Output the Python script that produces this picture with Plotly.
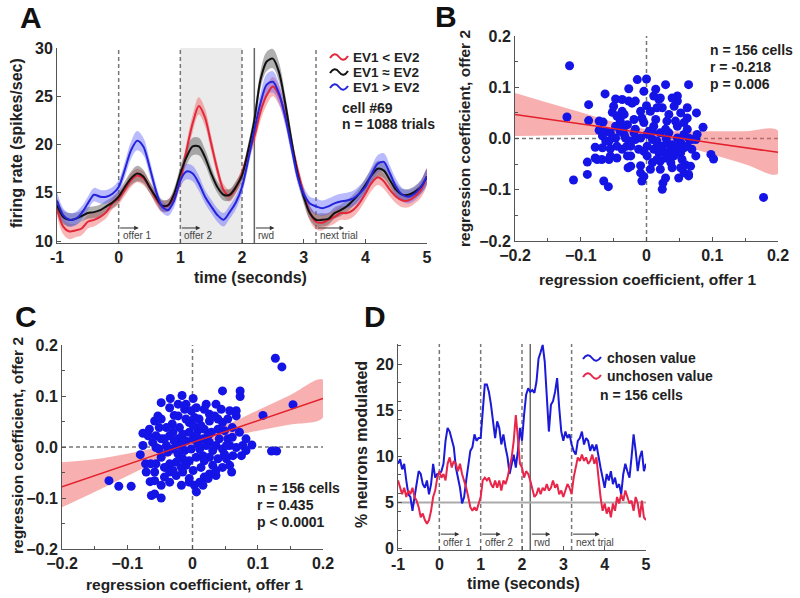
import plotly.graph_objects as go

# ---------------- Panel A data (firing rate, 0.1 s bins) ----------------
time_A = [round(-1 + 0.1 * i, 2) for i in range(61)]
rate_lt = [13.4, 11.5, 11.0, 11.1, 11.3, 12.0, 12.2, 12.5, 13.0, 13.9,
           14.4, 15.3, 16.3, 16.8, 16.5, 15.6, 14.4, 13.6, 13.7, 14.6,
           16.3, 19.4, 22.2, 24.0, 22.8, 20.1, 17.4, 15.3, 14.7, 15.5,
           17.0, 19.1, 20.8, 23.4, 25.1, 26.0, 25.1, 23.1, 20.1, 17.4,
           14.9, 12.9, 12.0, 11.9, 12.2, 12.5, 12.9, 12.9, 13.2, 13.9,
           14.9, 16.0, 16.6, 16.2, 15.3, 14.6, 14.2, 14.2, 14.6, 15.3,
           16.7]
rate_eq = [13.7, 12.5, 12.2, 12.3, 12.6, 12.9, 13.0, 13.2, 13.6, 14.0,
           14.6, 15.6, 16.5, 17.0, 16.7, 15.6, 14.6, 13.7, 13.7, 14.9,
           17.0, 18.7, 19.8, 19.8, 18.7, 17.0, 15.6, 14.8, 14.8, 15.6,
           16.8, 19.4, 22.5, 26.7, 28.6, 28.9, 27.5, 24.3, 20.5, 17.0,
           14.6, 12.9, 12.2, 12.2, 12.3, 12.9, 13.2, 13.6, 14.2, 14.9,
           15.8, 16.8, 17.5, 17.3, 16.3, 15.3, 14.8, 14.8, 15.1, 15.6,
           16.7]
rate_gt = [14.2, 12.7, 12.2, 12.3, 12.9, 13.9, 14.8, 14.6, 14.6, 14.9,
           15.6, 17.4, 19.4, 20.4, 19.8, 17.7, 15.3, 13.6, 13.2, 14.2,
           16.3, 17.2, 17.0, 16.0, 14.6, 13.6, 12.7, 12.2, 13.0, 14.0,
           15.6, 18.4, 21.5, 24.3, 26.2, 26.5, 25.3, 22.9, 19.8, 16.7,
           14.9, 13.9, 13.6, 13.4, 13.6, 13.9, 14.1, 14.2, 14.4, 14.9,
           15.6, 16.9, 18.0, 18.2, 17.0, 15.6, 14.8, 14.6, 14.9, 15.6,
           16.7]
sem_lt = [0.8, 0.8, 0.8, 0.7, 0.7, 0.7, 0.7, 0.6, 0.6, 0.6,
          0.6, 0.6, 0.7, 0.7, 0.7, 0.6, 0.6, 0.6, 0.6, 0.6,
          0.7, 0.8, 0.9, 0.9, 0.9, 0.8, 0.7, 0.6, 0.6, 0.6,
          0.6, 0.7, 0.8, 0.9, 1.0, 1.0, 1.0, 0.9, 0.8, 0.7,
          0.7, 0.8, 0.8, 0.8, 0.7, 0.7, 0.7, 0.7, 0.7, 0.7,
          0.7, 0.8, 0.8, 0.8, 0.7, 0.7, 0.7, 0.7, 0.7, 0.8,
          0.9]
sem_eq = [0.8, 0.7, 0.7, 0.6, 0.6, 0.6, 0.6, 0.6, 0.6, 0.6,
          0.6, 0.6, 0.7, 0.8, 0.7, 0.6, 0.6, 0.6, 0.6, 0.6,
          0.7, 0.8, 0.9, 0.9, 0.8, 0.7, 0.6, 0.6, 0.6, 0.6,
          0.6, 0.7, 0.8, 0.9, 1.0, 1.0, 1.0, 0.9, 0.8, 0.7,
          0.7, 0.7, 0.7, 0.7, 0.6, 0.6, 0.6, 0.6, 0.6, 0.6,
          0.7, 0.7, 0.8, 0.8, 0.7, 0.7, 0.6, 0.6, 0.6, 0.7,
          0.7]
sem_gt = [0.9, 0.7, 0.7, 0.7, 0.7, 0.7, 0.7, 0.7, 0.7, 0.7,
          0.7, 0.8, 0.9, 1.0, 0.9, 0.8, 0.7, 0.6, 0.6, 0.7,
          0.7, 0.8, 0.8, 0.8, 0.7, 0.7, 0.7, 0.7, 0.7, 0.7,
          0.7, 0.8, 0.9, 1.0, 1.1, 1.1, 1.0, 0.9, 0.8, 0.7,
          0.7, 0.7, 0.8, 0.8, 0.8, 0.8, 0.8, 0.8, 0.8, 0.8,
          0.8, 0.8, 0.9, 0.9, 0.8, 0.8, 0.7, 0.7, 0.7, 0.7,
          0.8]
legend_A = ["EV1 &lt; EV2", "EV1 ≈ EV2", "EV1 &gt; EV2"]

# ---------------- Events ----------------
event_times = [0, 1, 2, 3.2]
reward_time = 2.2
event_labels = ["offer 1", "offer 2", "rwd", "next trial"]
event_label_times = [0, 1, 2.2, 3.2]
offer2_window = [1, 2]

# ---------------- Panel B data ----------------
b_x = [-0.117, -0.121, -0.111, -0.088, -0.088, -0.090, -0.090, -0.078, -0.072, -0.066,
       -0.063, -0.078, -0.068, -0.065, -0.058, -0.057, -0.055, -0.052, -0.047, -0.047,
       -0.045, -0.040, -0.037, -0.034, -0.030, -0.028, -0.027, -0.027, -0.024, -0.022,
       -0.019, -0.017, -0.014, -0.009, -0.007, -0.007, -0.004, 0.000, 0.000, 0.001,
       0.004, 0.006, 0.011, 0.014, 0.016, 0.019, 0.021, 0.024, 0.025, 0.029,
       0.029, 0.031, 0.034, 0.037, 0.039, 0.042, 0.047, 0.047, 0.049, 0.052,
       0.054, 0.057, 0.062, 0.062, 0.064, 0.064, 0.069, 0.075, 0.076, 0.086,
       0.098, 0.102, 0.009, 0.016, 0.024, 0.031, 0.039, 0.044, 0.052, 0.057,
       0.011, 0.019, 0.026, 0.034, 0.042, 0.047, 0.057, 0.064, 0.075, 0.077,
       0.021, 0.029, 0.011, -0.009, -0.012, -0.017, -0.024, -0.032, -0.040, -0.047,
       -0.055, -0.062, -0.067, -0.029, -0.034, -0.045, -0.009, -0.004, 0.006, 0.016,
       0.034, 0.044, 0.057, 0.047, 0.021, -0.017, -0.037, -0.004, -0.024, -0.037,
       -0.045, -0.029, -0.055, -0.075, -0.067, 0.001, 0.009, 0.021, -0.009, -0.024,
       0.059, 0.064, 0.067, 0.052, 0.037, 0.029, 0.016, 0.069, 0.062, -0.004,
       0.001, 0.009, -0.019, -0.034, 0.052, 0.062, 0.039, 0.014, -0.050, -0.072,
       -0.062, -0.057, 0.178, 0.049, 0.024, 0.030]
b_y = [0.142, 0.042, -0.081, 0.066, 0.035, -0.070, -0.046, -0.017, 0.016, 0.032,
       0.087, -0.038, -0.041, -0.083, -0.094, -0.005, -0.020, 0.051, 0.077, 0.024,
       -0.038, 0.035, 0.053, 0.008, -0.015, -0.057, 0.097, 0.073, -0.034, 0.069,
       0.037, 0.018, 0.115, -0.053, 0.040, -0.083, -0.074, 0.116, 0.064, -0.015,
       0.014, -0.060, 0.083, 0.037, -0.015, 0.076, -0.044, 0.060, -0.087, 0.105,
       -0.077, 0.034, 0.011, -0.018, -0.057, 0.063, 0.083, 0.024, -0.015, -0.028,
       -0.041, -0.067, 0.040, 0.018, 0.105, -0.073, -0.002, -0.034, 0.050, 0.022,
       -0.031, -0.040, -0.002, -0.005, -0.015, -0.008, -0.012, -0.021, -0.008, -0.018,
       -0.021, -0.028, -0.025, -0.031, -0.034, 0.001, 0.008, 0.001, -0.002, 0.008,
       0.011, 0.018, 0.024, 0.001, -0.021, -0.002, -0.005, 0.001, 0.014, 0.001,
       0.011, 0.014, 0.005, 0.027, 0.047, 0.044, 0.053, 0.031, 0.053, 0.060,
       0.047, 0.034, 0.031, 0.073, 0.079, 0.073, 0.076, 0.092, -0.015, -0.021,
       -0.015, -0.034, -0.034, -0.041, -0.018, -0.034, -0.047, -0.060, -0.067, -0.054,
       -0.051, -0.070, -0.054, -0.057, -0.047, -0.038, -0.041, -0.021, -0.015, -0.025,
       0.008, 0.014, 0.011, 0.024, 0.050, 0.060, 0.079, 0.096, 0.063, 0.034,
       -0.005, -0.041, -0.115, -0.077, -0.099, 0.000]
fit_x = [-0.2, -0.15, -0.1, -0.05, 0.0, 0.05, 0.1, 0.15, 0.2]
b_fit = [0.047, 0.038, 0.029, 0.019, 0.010, 0.001, -0.009, -0.018, -0.027]
b_hi = [0.089, 0.070, 0.051, 0.032, 0.018, 0.014, 0.014, 0.014, 0.015]
b_lo = [0.005, 0.006, 0.007, 0.006, 0.002, -0.012, -0.031, -0.050, -0.069]
b_stats = ["n = 156 cells", "r = -0.218", "p = 0.006"]

# ---------------- Panel C data ----------------
c_x = [0.127, 0.137, 0.154, 0.108, 0.121, 0.129, 0.046, 0.073, 0.073, -0.128,
       -0.113, -0.094, -0.080, -0.072, -0.065, -0.063, -0.048, -0.064, -0.058, -0.076,
       -0.066, -0.058, -0.053, -0.048, -0.034, -0.016, 0.001, -0.051, -0.061, -0.056,
       -0.048, -0.040, -0.035, -0.031, -0.028, -0.020, -0.012, -0.010, -0.002, 0.003,
       0.010, 0.018, 0.021, 0.036, 0.044, 0.054, 0.067, 0.061, 0.054, 0.049,
       0.039, 0.029, 0.018, 0.008, -0.005, -0.015, -0.022, -0.030, -0.022, -0.012,
       -0.002, 0.008, 0.016, 0.026, 0.036, 0.046, 0.057, 0.067, 0.077, 0.082,
       0.091, 0.075, 0.062, 0.052, 0.039, 0.026, 0.016, 0.006, -0.005, -0.015,
       -0.025, -0.035, -0.043, -0.056, -0.058, -0.043, -0.035, -0.025, -0.015, -0.005,
       0.003, 0.011, 0.018, 0.026, 0.036, 0.046, 0.060, 0.049, 0.031, 0.013,
       0.001, -0.010, -0.017, -0.030, -0.048, -0.071, -0.030, -0.040, -0.022, -0.005,
       0.013, 0.026, 0.039, 0.026, 0.006, -0.010, -0.035, -0.048, -0.056, -0.068,
       -0.038, -0.020, -0.010, 0.001, 0.021, 0.031, 0.041, 0.061, 0.072, 0.082,
       -0.005, 0.006, -0.048, -0.035, -0.058, 0.024, 0.036, 0.057, 0.052, 0.024,
       0.006, -0.015, -0.028, -0.043, -0.051, -0.022, 0.001, 0.046, 0.034, 0.057,
       0.067, 0.016, -0.076, 0.018, -0.017, 0.011]
c_y = [0.174, 0.157, 0.083, 0.062, -0.008, -0.008, 0.110, 0.110, 0.099, -0.066,
       -0.077, -0.077, -0.015, -0.033, -0.068, -0.095, -0.100, -0.033, -0.049, 0.027,
       0.035, 0.051, 0.061, 0.087, 0.095, 0.101, 0.095, 0.038, 0.009, -0.001,
       0.016, 0.003, 0.022, 0.045, 0.062, 0.038, 0.074, 0.055, 0.071, 0.058,
       0.055, 0.074, 0.084, 0.084, 0.074, 0.055, 0.061, 0.038, 0.016, 0.032,
       0.035, 0.029, 0.035, 0.032, 0.029, 0.025, 0.016, -0.004, -0.014, -0.007,
       -0.004, 0.006, 0.016, 0.009, 0.003, -0.004, 0.003, -0.001, 0.003, -0.007,
       0.004, -0.017, -0.017, -0.023, -0.023, -0.020, -0.017, -0.020, -0.027, -0.023,
       -0.030, -0.033, -0.040, -0.033, -0.066, -0.059, -0.049, -0.056, -0.049, -0.062,
       -0.075, -0.069, -0.059, -0.053, -0.056, -0.040, -0.049, -0.014, -0.036, -0.040,
       -0.046, -0.036, -0.040, -0.046, -0.020, -0.049, 0.029, 0.038, 0.061, 0.048,
       0.042, 0.051, 0.055, 0.064, 0.077, 0.084, 0.077, 0.055, 0.022, 0.022,
       -0.010, 0.003, 0.012, 0.016, 0.003, -0.007, 0.016, 0.019, 0.029, 0.016,
       -0.069, -0.088, -0.075, -0.069, -0.092, -0.062, -0.046, -0.036, 0.003, 0.022,
       0.022, 0.009, 0.012, 0.016, -0.004, 0.084, 0.042, 0.048, 0.061, 0.071,
       0.071, -0.075, 0.003, -0.027, -0.075, -0.004]
c_fit = [-0.078, -0.056, -0.035, -0.013, 0.009, 0.030, 0.052, 0.073, 0.095]
c_hi = [-0.030, -0.024, -0.013, 0.000, 0.017, 0.042, 0.072, 0.102, 0.132]
c_lo = [-0.118, -0.088, -0.057, -0.026, 0.000, 0.018, 0.032, 0.044, 0.058]
c_stats = ["n = 156 cells", "r = 0.435", "p &lt; 0.0001"]

# ---------------- Panel D data (% neurons, 0.05 s bins) ----------------
time_D = [round(-1 + 0.05 * i, 2) for i in range(121)]
chosen = [9.2, 9.7, 8.6, 9.2, 7.4, 5.9, 5.6, 4.1, 5.6, 7.0,
          8.4, 8.1, 7.0, 6.6, 7.4, 5.9, 7.0, 9.2, 7.7, 8.1,
          8.1, 8.4, 9.2, 11.7, 13.1, 12.7, 11.7, 11.0, 8.8, 7.7,
          6.6, 4.9, 5.6, 7.4, 9.2, 10.6, 11.0, 12.4, 11.7, 12.0,
          12.0, 14.5, 17.8, 17.8, 17.0, 15.6, 13.5, 12.0, 13.8, 13.1,
          11.3, 12.4, 11.0, 9.9, 8.1, 9.2, 10.2, 8.8, 10.6, 13.1,
          11.7, 14.5, 16.7, 17.4, 17.0, 17.2, 16.9, 18.1, 20.6, 21.3,
          22.1, 20.3, 16.3, 12.7, 15.6, 16.0, 17.0, 18.5, 15.3, 12.7,
          11.7, 12.7, 12.0, 12.4, 11.3, 10.6, 10.2, 11.7, 12.0, 12.7,
          11.3, 12.0, 11.7, 10.6, 11.3, 10.6, 11.3, 9.9, 8.8, 7.7,
          6.6, 8.1, 7.4, 8.4, 7.0, 7.7, 6.6, 7.0, 5.9, 8.1,
          9.2, 8.4, 7.7, 9.9, 12.4, 10.6, 8.4, 9.9, 10.6, 8.4,
          9.2]
unchosen = [7.4, 6.6, 5.9, 6.6, 5.6, 6.3, 5.9, 6.6, 5.6, 5.2,
            4.5, 3.4, 3.8, 3.1, 2.7, 3.1, 4.1, 5.6, 6.3, 7.7,
            8.4, 7.7, 8.1, 7.4, 9.2, 9.9, 8.8, 9.5, 9.2, 8.4,
            9.2, 8.1, 7.4, 6.6, 5.6, 4.5, 4.1, 4.5, 4.1, 4.9,
            5.6, 7.4, 7.7, 7.4, 7.7, 7.0, 6.6, 7.4, 6.6, 7.4,
            6.3, 7.4, 7.0, 7.7, 8.8, 9.9, 11.7, 14.5, 12.0, 9.2,
            8.8, 7.7, 8.4, 8.1, 7.4, 6.6, 5.6, 5.9, 6.6, 5.9,
            6.6, 6.3, 7.0, 6.3, 6.6, 7.4, 6.6, 7.0, 5.9, 6.3,
            5.6, 6.3, 7.0, 6.6, 5.9, 7.7, 8.8, 9.9, 9.5, 10.2,
            9.5, 9.9, 9.2, 9.5, 10.2, 9.2, 9.9, 7.4, 5.6, 4.1,
            4.9, 3.8, 4.5, 3.4, 4.9, 4.1, 5.6, 4.9, 5.9, 5.2,
            6.3, 5.6, 4.9, 5.2, 4.1, 5.6, 4.9, 3.4, 5.2, 3.4,
            3.1]
chance_level = 5
legend_D = ["chosen value", "unchosen value"]
d_stats = "n = 156 cells"

# ---------------- Tick labels ----------------
time_ticks = [-1, 0, 1, 2, 3, 4, 5]
time_ticktext = ["-1", "0", "1", "2", "3", "4", "5"]
rate_ticks = [10, 15, 20, 25, 30]
coef_ticks = [-0.2, -0.1, 0, 0.1, 0.2]
coef_xtext = ["\u22120.2", "\u22120.1", "0", "0.1", "0.2"]
coef_ytext = ["\u22120.2", "\u22120.1", "0.0", "0.1", "0.2"]
pct_ticks = [0, 5, 10, 15, 20]

# ---------------- Styling ----------------
W, H = 800, 598
FONT = "Arial"
RED, BLACK, BLUE = "#e3263a", "#111111", "#2424dc"
RED_BAND, BLACK_BAND, BLUE_BAND = "rgba(238,80,80,0.42)", "rgba(80,80,80,0.45)", "rgba(90,90,255,0.42)"
DOT_BLUE = "#1414e6"
FIT_RED = "#e3202c"
FIT_BAND = "rgba(240,95,95,0.5)"
D_BLUE, D_RED = "#1a1ad8", "#e8264a"


def px(x):
    return x / W


def py(y):
    return 1 - y / H


tickfont = dict(family=FONT, size=16, color="#222", weight="bold")


def axis(**kw):
    base = dict(showline=True, linecolor="#555", linewidth=1, ticks="inside", ticklen=4,
                tickcolor="#555", showgrid=False, zeroline=False, mirror=False,
                tickfont=tickfont, fixedrange=True, automargin=False)
    base.update(kw)
    return base


fig = go.Figure()


def band(x, lo, hi, color, xa, ya, shape="spline"):
    fig.add_trace(go.Scatter(x=list(x) + list(x)[::-1], y=list(hi) + list(lo)[::-1],
                             fill="toself", fillcolor=color, line=dict(width=0, shape=shape),
                             mode="lines", hoverinfo="skip", xaxis=xa, yaxis=ya))


# Panel A traces
for vals, sem, col, bcol in [(rate_lt, sem_lt, RED, RED_BAND), (rate_eq, sem_eq, BLACK, BLACK_BAND),
                             (rate_gt, sem_gt, BLUE, BLUE_BAND)]:
    hi = [v + s for v, s in zip(vals, sem)]
    lo = [v - s for v, s in zip(vals, sem)]
    band(time_A, lo, hi, bcol, "x", "y")
for vals, col in [(rate_lt, RED), (rate_eq, BLACK), (rate_gt, BLUE)]:
    fig.add_trace(go.Scatter(x=time_A, y=vals, mode="lines",
                             line=dict(color=col, width=2, shape="spline", smoothing=0.8),
                             xaxis="x", yaxis="y"))

# Panel B
band(fit_x, b_lo, b_hi, FIT_BAND, "x2", "y2")
fig.add_trace(go.Scatter(x=b_x, y=b_y, mode="markers",
                         marker=dict(color=DOT_BLUE, size=9, line=dict(width=0)),
                         xaxis="x2", yaxis="y2"))
fig.add_trace(go.Scatter(x=fit_x, y=b_fit, mode="lines", line=dict(color=FIT_RED, width=1.5),
                         xaxis="x2", yaxis="y2"))

# Panel C
band(fit_x, c_lo, c_hi, FIT_BAND, "x3", "y3")
fig.add_trace(go.Scatter(x=c_x, y=c_y, mode="markers",
                         marker=dict(color=DOT_BLUE, size=9, line=dict(width=0)),
                         xaxis="x3", yaxis="y3"))
fig.add_trace(go.Scatter(x=fit_x, y=c_fit, mode="lines", line=dict(color=FIT_RED, width=1.5),
                         xaxis="x3", yaxis="y3"))

# Panel D
fig.add_trace(go.Scatter(x=time_D, y=chosen, mode="lines", line=dict(color=D_BLUE, width=2),
                         xaxis="x4", yaxis="y4"))
fig.add_trace(go.Scatter(x=time_D, y=unchosen, mode="lines", line=dict(color=D_RED, width=2),
                         xaxis="x4", yaxis="y4"))

# ---------------- Shapes ----------------
shapes = []
shapes.append(dict(type="rect", xref="x", yref="y domain", x0=offer2_window[0], x1=offer2_window[1],
                   y0=0, y1=1, fillcolor="#ebebeb", line=dict(width=0), layer="below"))
for xr, yr in [("x", "y domain"), ("x4", "y4 domain")]:
    for t in event_times:
        shapes.append(dict(type="line", xref=xr, yref=yr, x0=t, x1=t, y0=0, y1=1,
                           line=dict(color="#777", width=1.5, dash="4px,3px"), layer="below"))
    shapes.append(dict(type="line", xref=xr, yref=yr, x0=reward_time, x1=reward_time, y0=0, y1=1,
                       line=dict(color="#666", width=1.5), layer="below"))
shapes.append(dict(type="line", xref="x4 domain", yref="y4", x0=0, x1=1, y0=chance_level, y1=chance_level,
                   line=dict(color="#aaaaaa", width=2), layer="below"))
for xr, yr in [("x2", "y2"), ("x3", "y3")]:
    shapes.append(dict(type="line", xref=xr, yref=yr + " domain", x0=0, x1=0, y0=0, y1=1,
                       line=dict(color="#777", width=1.5, dash="4px,3px"), layer="below"))
    shapes.append(dict(type="line", xref=xr + " domain", yref=yr, x0=0, x1=1, y0=0, y1=0,
                       line=dict(color="#777", width=1.5, dash="4px,3px"), layer="below"))


def wave(x0, y, col, w=18, a=3.5):
    """Small wavy legend glyph (SVG quadratic path in paper coordinates)."""
    p = "M {:.5f},{:.5f} Q {:.5f},{:.5f} {:.5f},{:.5f} T {:.5f},{:.5f}".format(
        px(x0), py(y + 1), px(x0 + w / 4), py(y - 2 * a + 1), px(x0 + w / 2), py(y),
        px(x0 + w), py(y - 1))
    shapes.append(dict(type="path", xref="paper", yref="paper", path=p,
                       line=dict(color=col, width=2), layer="above"))


# ---------------- Annotations ----------------
ann = []
bold = dict(family=FONT, size=16, color="#222", weight="bold")
bold_s = dict(family=FONT, size=15.5, color="#222", weight="bold")
stat_font = dict(family=FONT, size=14, color="#222", weight="bold")
leg_font = dict(family=FONT, size=13.5, color="#222", weight="bold")


def text(x, y, s, font, xanchor="center", yanchor="middle", angle=0):
    ann.append(dict(x=px(x), y=py(y), xref="paper", yref="paper", text=s, showarrow=False,
                    font=font, xanchor=xanchor, yanchor=yanchor, textangle=angle))


# panel letters
letter_font = dict(family=FONT, size=30, color="#111", weight="bold")
for lx, ly, s in [(31, 18, "A"), (446, 17, "B"), (26, 316, "C"), (375, 316, "D")]:
    text(lx, ly, s, letter_font)

# axis titles
text(250, 277, "time (seconds)", bold)
text(17, 143, "firing rate (spikes/sec)", bold, angle=-90)
text(647, 279, "regression coefficient, offer 1", bold_s)
text(465, 139, "regression coefficient, offer 2", bold_s, angle=-90)
text(194, 584, "regression coefficient, offer 1", bold_s)
text(18, 446, "regression coefficient, offer 2", bold_s, angle=-90)
text(523, 583, "time (seconds)", bold)
text(362, 445, "% neurons modulated", bold, angle=-90)

# legend A
for i, (lab, col) in enumerate(zip(legend_A, [RED, BLACK, BLUE])):
    yy = 57 + 15 * i
    wave(330, yy, col)
    text(351, yy, lab, leg_font, xanchor="left")
text(340, 108, "cell #69", stat_font, xanchor="left")
text(340, 124, "n = 1088 trials", stat_font, xanchor="left")

# stats B, C
for i, s in enumerate(b_stats):
    text(708, 50 + 17 * i, s, stat_font, xanchor="left")
for i, s in enumerate(c_stats):
    text(255, 488 + 17 * i, s, stat_font, xanchor="left")

# legend D
for i, (lab, col) in enumerate(zip(legend_D, [D_BLUE, D_RED])):
    yy = 358 + 18 * i
    wave(583, yy, col)
    text(605, yy, lab, stat_font, xanchor="left")
text(598, 395, d_stats, stat_font, xanchor="left")

# event labels with arrows
ev_font = dict(family=FONT, size=10, color="#444")
for xr, yr in [("x", "y domain"), ("x4", "y4 domain")]:
    for t, lab in zip(event_label_times, event_labels):
        L = 28 if lab == "next trial" else 20
        ann.append(dict(x=t, y=0.077, xref=xr, yref=yr, ax=-L, ay=0, axref="pixel", ayref="pixel",
                        xshift=L, text="", showarrow=True, arrowhead=2, arrowsize=0.9,
                        arrowwidth=1, arrowcolor="#333"))
        ann.append(dict(x=t, y=0.036, xref=xr, yref=yr, text=lab, showarrow=False,
                        font=ev_font, xanchor="left", yanchor="middle", xshift=2))

minor_coef = dict(dtick=0.05, tick0=0, ticks="inside", ticklen=3, tickcolor="#555", showgrid=False)

fig.update_layout(
    width=W, height=H, autosize=False,
    margin=dict(l=0, r=0, t=0, b=0, autoexpand=False),
    paper_bgcolor="white", plot_bgcolor="rgba(0,0,0,0)",
    showlegend=False,
    shapes=shapes, annotations=ann,
    xaxis=axis(domain=[px(57), px(427)], range=[-1, 5], anchor="y",
               tickvals=time_ticks, ticktext=time_ticktext),
    yaxis=axis(domain=[py(243), py(48)], range=[9.8, 30], anchor="x", tickvals=rate_ticks),
    xaxis2=axis(domain=[px(515), px(778)], range=[-0.2, 0.2], anchor="y2",
                tickvals=coef_ticks, ticktext=coef_xtext, minor=minor_coef),
    yaxis2=axis(domain=[py(241), py(36)], range=[-0.2, 0.2], anchor="x2",
                tickvals=coef_ticks, ticktext=coef_ytext, minor=minor_coef),
    xaxis3=axis(domain=[px(62), px(323)], range=[-0.2, 0.2], anchor="y3",
                tickvals=coef_ticks, ticktext=coef_xtext, minor=minor_coef),
    yaxis3=axis(domain=[py(549), py(345)], range=[-0.2, 0.2], anchor="x3",
                tickvals=coef_ticks, ticktext=coef_ytext, minor=minor_coef),
    xaxis4=axis(domain=[px(398), px(646)], range=[-1, 5], anchor="y4",
                tickvals=time_ticks, ticktext=time_ticktext),
    yaxis4=axis(domain=[py(550), py(344)], range=[-0.15, 22.2], anchor="x4", tickvals=pct_ticks,
                minor=dict(dtick=2, tick0=0, ticks="inside", ticklen=3, tickcolor="#555", showgrid=False)),
)

fig.write_html("out.html", config={"displayModeBar": False},
               post_script="document.body.style.margin='0';document.body.style.overflow='hidden';")
